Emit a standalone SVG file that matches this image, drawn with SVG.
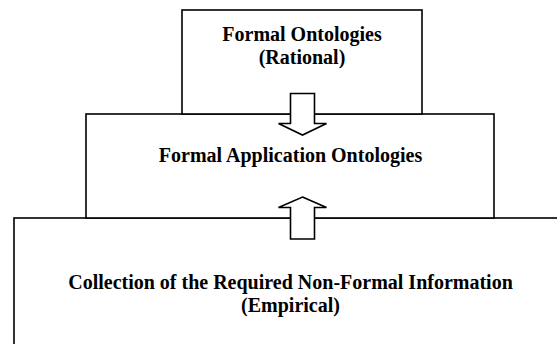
<svg xmlns="http://www.w3.org/2000/svg" width="557" height="344" viewBox="0 0 557 344">
<style>
.box{fill:#fff;stroke:#000;stroke-width:1.6}
.arrow{fill:#fff;stroke:#000;stroke-width:1.6;stroke-linejoin:miter}
.t{font-family:"Liberation Serif","Times New Roman",serif;font-weight:bold;font-size:20px;fill:#000;text-anchor:middle}
</style>
<rect width="557" height="344" fill="#fff"/>
<g id="bottom">
<rect class="box" x="14" y="218" width="570" height="150"/>
<text class="t" x="290.5" y="289">Collection of the Required Non-Formal Information</text>
<text class="t" x="290.5" y="312">(Empirical)</text>
</g>
<g id="middle">
<rect class="box" x="86" y="114" width="408" height="104"/>
<text class="t" x="290.5" y="162">Formal Application Ontologies</text>
</g>
<g id="top">
<rect class="box" x="182" y="10" width="240" height="104"/>
<text class="t" x="302" y="40.5">Formal Ontologies</text>
<text class="t" x="302" y="63.5">(Rational)</text>
</g>
<g id="connectors">
<polygon class="arrow" points="290.5,93.5 314.5,93.5 314.5,123.5 326.5,123.5 302.5,135 278.5,123.5 290.5,123.5"/>
<polygon class="arrow" points="302.5,197 326.5,207.5 314.5,207.5 314.5,239 290.5,239 290.5,207.5 278.5,207.5"/>
</g>
</svg>
